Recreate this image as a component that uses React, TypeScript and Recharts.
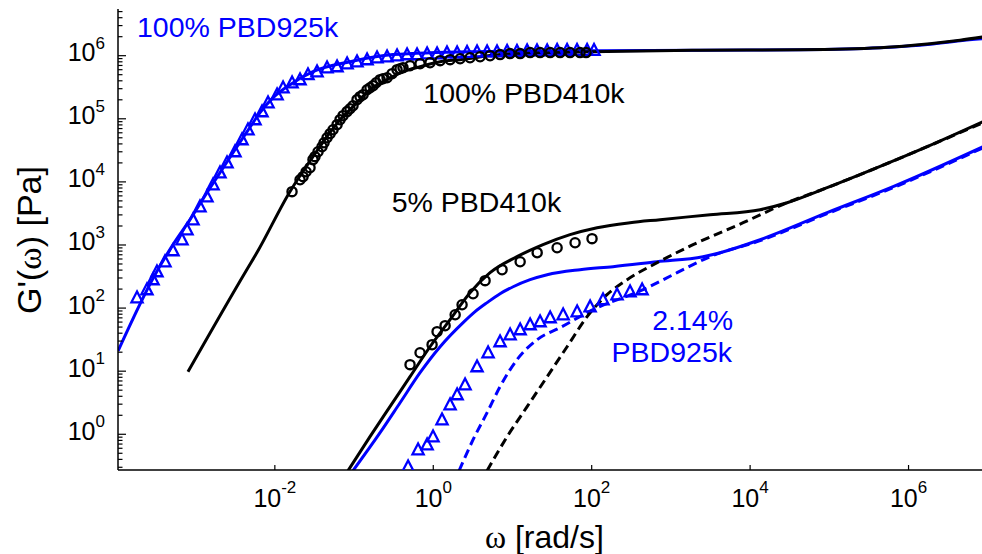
import React from 'react';
import { ComposedChart, Line, Scatter, XAxis, YAxis } from 'recharts';

// ---------- axis ranges & ticks ----------
const X_DOMAIN: [number, number] = [1.047e-4, 8.71e6];
const Y_DOMAIN: [number, number] = [0.2716, 5.495e6];
const X_MAJOR = [1e-2, 1, 1e2, 1e4, 1e6];
const Y_MAJOR = [1, 10, 100, 1e3, 1e4, 1e5, 1e6];
const Y_MINOR_LOW = [0.3, 0.4, 0.5, 0.6, 0.7, 0.8, 0.9];
const Y_MINOR_TOP = [2e6, 3e6, 4e6, 5e6];
const MINOR_MULT = [2, 3, 4, 5, 6, 7, 8, 9];

// ---------- series: [omega rad/s, G' Pa] ----------
// 100% PBD925k – model (blue solid)
const bulk925Model: [number, number][] = [
  [1.05e-4, 21], [3.07e-4, 338], [5.18e-4, 1012], [8.49e-4, 2518], [1.39e-3, 6745],
  [2.03e-3, 1.4e4], [2.96e-3, 2.9e4], [4.46e-3, 6.25e4], [6.5e-3, 1.25e5], [9.5e-3, 2.16e5],
  [1.556e-2, 3.47e5], [3.03e-2, 5.57e5], [8.89e-2, 8.03e5], [0.31, 1.04e6], [2.91, 1.156e6],
  [95.5, 1.2e6], [2339, 1.22e6], [4.28e4, 1.245e6], [4.38e5, 1.34e6], [1.87e6, 1.52e6],
  [4.49e6, 1.73e6], [8.75e6, 1.86e6],
];
// 100% PBD925k – data (blue triangles)
const bulk925Data: [number, number][] = [
  [1.82e-4, 146], [2.43e-4, 196], [2.9e-4, 282], [3.25e-4, 378], [4.1e-4, 543],
  [5.18e-4, 813], [6.73e-4, 1213], [7.78e-4, 1746], [9.27e-4, 2512], [1.135e-3, 4046],
  [1.39e-3, 5821], [1.66e-3, 9016], [2.03e-3, 13960], [2.49e-3, 20140], [3.14e-3, 30130],
  [3.85e-3, 46670], [4.58e-3, 67140], [5.62e-3, 96830], [6.89e-3, 129700], [8.2e-3, 179900],
  [1.067e-2, 241000], [1.27e-2, 311200], [1.65e-2, 373300], [2.08e-2, 416900], [2.62e-2, 501200],
  [3.41e-2, 557200], [4.56e-2, 645700], [6.1e-2, 669900], [8.17e-2, 746500], [0.109, 803500],
  [0.146, 865000], [0.195, 929000], [0.261, 963800], [0.349, 1.0e6], [0.467, 1.038e6],
  [0.624, 1.038e6], [0.836, 1.076e6], [1.117, 1.076e6], [1.49, 1.117e6], [2.0, 1.117e6],
  [2.67, 1.135e6], [3.57, 1.156e6], [4.78, 1.156e6], [6.38, 1.156e6], [8.55, 1.178e6],
  [11.4, 1.178e6], [15.3, 1.2e6], [20.4, 1.2e6], [27.4, 1.2e6], [36.6, 1.222e6],
  [48.9, 1.222e6], [65.3, 1.222e6], [87.5, 1.222e6], [107, 1.222e6],
];
// 100% PBD410k – model (black solid)
const bulk410Model: [number, number][] = [
  [8.0e-4, 9.8], [4.42e-3, 406], [5.9e-3, 746], [1.556e-2, 7063], [3.03e-2, 2.51e4],
  [4.56e-2, 5.2e4], [6.65e-2, 9.68e4], [9.7e-2, 1.556e5], [0.159, 2.89e5], [0.261, 4.17e5],
  [0.416, 5.57e5], [0.681, 6.7e5], [1.22, 8.03e5], [2.18, 8.65e5], [6.97, 1.04e6],
  [32.5, 1.117e6], [95.5, 1.156e6], [2340, 1.22e6], [4.27e4, 1.245e6], [4.37e5, 1.34e6],
  [1.86e6, 1.55e6], [4.47e6, 1.76e6], [8.75e6, 1.98e6],
];
// 100% PBD410k – data (black circles)
const bulk410Data: [number, number][] = [
  [1.648e-2, 7000], [2.08e-2, 1.08e4], [2.27e-2, 1.21e4], [2.48e-2, 1.45e4], [2.78e-2, 1.68e4],
  [3.03e-2, 2.25e4], [3.21e-2, 2.51e4], [3.51e-2, 3.01e4], [3.94e-2, 3.61e4], [4.18e-2, 4.18e4],
  [4.56e-2, 5.01e4], [4.98e-2, 5.81e4], [5.43e-2, 6.71e4], [6.1e-2, 8.07e4], [6.65e-2, 9.68e4],
  [7.26e-2, 1.12e5], [8.15e-2, 1.3e5], [8.89e-2, 1.445e5], [9.7e-2, 1.61e5], [0.109, 2.01e5],
  [0.119, 2.24e5], [0.13, 2.41e5], [0.146, 2.89e5], [0.159, 3.11e5], [0.174, 3.35e5],
  [0.19, 3.73e5], [0.213, 4.17e5], [0.232, 4.32e5], [0.261, 4.48e5], [0.302, 5.19e5],
  [0.349, 6.0e5], [0.381, 6.22e5], [0.415, 6.46e5], [0.509, 6.95e5], [0.681, 7.47e5],
  [0.91, 7.75e5], [1.22, 8.34e5], [1.63, 8.65e5], [2.18, 8.96e5], [2.91, 9.29e5],
  [3.9, 9.64e5], [5.21, 1.0e6], [6.97, 1.04e6], [9.31, 1.08e6], [12.5, 1.08e6],
  [16.7, 1.12e6], [22.3, 1.12e6], [29.9, 1.12e6], [39.9, 1.12e6], [53.3, 1.12e6],
  [71.3, 1.12e6], [84.9, 1.12e6],
];
// 5% PBD410k – model (black solid)
const dil410Model: [number, number][] = [
  [8.4e-2, 0.265], [0.159, 0.916], [0.284, 2.74], [0.509, 8.18], [0.91, 24.4],
  [1.63, 65.5], [2.91, 175], [5.21, 364], [11.4, 653], [24.3, 1012],
  [53.3, 1457], [117, 1879], [305, 2255], [730, 2518], [3126, 3020],
  [1.34e4, 3630], [2.93e4, 4680], [9.38e4, 8090], [4.01e5, 1.68e4], [1.72e6, 3.61e4],
  [8.75e6, 9.0e4],
];
// 5% PBD410k – second model (black dashed)
const dil410Dashed: [number, number][] = [
  [4.78, 0.265], [8.55, 0.916], [15.3, 2.74], [27.4, 8.18], [48.9, 24.4],
  [87.5, 73.1], [156, 163], [280, 282], [670, 524], [1905, 1012],
  [8166, 2255], [2.93e4, 4677], [9.38e4, 8090], [4.01e5, 1.68e4], [1.72e6, 3.61e4],
  [8.75e6, 8.67e4],
];
// 5% PBD410k – data (black circles)
const dil410Data: [number, number][] = [
  [0.509, 12.7], [0.681, 19.6], [0.966, 26.3], [1.117, 42.3], [1.41, 52.6],
  [1.89, 78.5], [2.31, 113], [3.18, 169], [4.51, 272], [7.39, 406],
  [12.5, 543], [20.5, 755], [36.6, 906], [61.7, 1086], [101, 1259],
];
// 2.14% PBD925k – model (blue solid)
const dil925Model: [number, number][] = [
  [9.7e-2, 0.265], [0.213, 1.06], [0.381, 3.16], [0.681, 9.46], [1.22, 24.4],
  [2.38, 58.7], [3.37, 87.7], [4.78, 122], [6.97, 169], [10.2, 218],
  [16.7, 282], [27.4, 338], [71.3, 406], [186, 453], [670, 543],
  [2547, 653], [4178, 755], [1.34e4, 1213], [9.38e4, 3251], [6.38e5, 8395],
  [8.75e6, 3.61e4],
];
// 2.14% PBD925k – second model (blue dashed)
const dil925Dashed: [number, number][] = [
  [2.12, 0.265], [3.18, 0.82], [4.78, 2.2], [6.97, 5.68], [11.4, 15.2],
  [20.5, 31.6], [39.9, 48.9], [104, 94.4], [446, 196], [1197, 364],
  [3126, 653], [1.34e4, 1169], [9.38e4, 3133], [6.38e5, 8090], [8.75e6, 3.48e4],
];
// 2.14% PBD925k – data (blue triangles)
const dil925Data: [number, number][] = [
  [0.481, 0.307], [0.643, 0.57], [0.836, 0.684], [0.993, 0.916], [1.29, 1.7],
  [1.63, 2.94], [2.0, 4.25], [2.52, 6.11], [3.57, 11.8], [4.92, 19.6],
  [6.97, 29.4], [9.33, 37.8], [12.5, 45.5], [16.7, 54.6], [22.3, 61.0],
  [29.9, 70.5], [43.6, 78.5], [65.5, 87.7], [95.5, 105], [139, 136],
  [209, 163], [305, 182], [433, 196],
];

const rows = (pts: [number, number][]) => pts.map(([w, g]) => ({ w, g }));

const BLUE = '#0000ff';
const BLACK = '#000000';
const SANS = '"Liberation Sans", Arial, Helvetica, sans-serif';
const SERIF = '"Liberation Serif", "Times New Roman", serif';

const yTicksAll = [
  ...Y_MINOR_LOW,
  ...Y_MAJOR.flatMap((m) => (m < 1e6 ? [m, ...MINOR_MULT.map((k) => k * m)] : [m])),
  ...Y_MINOR_TOP,
];

const isMajor = (v: number) => {
  const l = Math.log10(v);
  return Math.abs(l - Math.round(l)) < 1e-6;
};

const XTickBottom = (props: any) => {
  const { x, y, payload } = props;
  const e = Math.round(Math.log10(payload.value));
  return (
    <g>
      <line x1={x} y1={y} x2={x} y2={y - 5} stroke={BLACK} strokeWidth={1.2} />
      <text x={x} y={y + 37} textAnchor="middle" fontFamily={SANS} fontSize={25} fill={BLACK}>
        10<tspan dy={-14} fontSize={17}>{String(e)}</tspan>
      </text>
    </g>
  );
};

const XTickTop = (props: any) => {
  const { x, y } = props;
  return <line x1={x} y1={y} x2={x} y2={y + 5} stroke={BLACK} strokeWidth={1.2} />;
};

const YTickLeft = (props: any) => {
  const { x, y, payload } = props;
  const v = payload.value;
  const major = isMajor(v);
  const e = Math.round(Math.log10(v));
  return (
    <g>
      <line x1={x} y1={y} x2={x + (major ? 8 : 4.5)} y2={y} stroke={BLACK} strokeWidth={1.2} />
      {major && (
        <text x={x - 13} y={y + 5.5} textAnchor="end" fontFamily={SANS} fontSize={25} fill={BLACK}>
          10<tspan dy={-12.5} fontSize={17}>{String(e)}</tspan>
        </text>
      )}
    </g>
  );
};

const YTickRight = (props: any) => {
  const { x, y, payload } = props;
  if (!isMajor(payload.value)) return <g />;
  return <line x1={x} y1={y} x2={x - 5} y2={y} stroke={BLACK} strokeWidth={1.2} />;
};

const Triangle = (props: any) => {
  const { cx, cy, color } = props;
  if (cx == null || cy == null) return <g />;
  const h = 5.6;
  return (
    <polygon
      points={`${cx},${cy - h - 0.6} ${cx - h},${cy + h - 1} ${cx + h},${cy + h - 1}`}
      fill="none"
      stroke={color}
      strokeWidth={2.3}
      strokeLinejoin="miter"
    />
  );
};

const Circle = (props: any) => {
  const { cx, cy } = props;
  if (cx == null || cy == null) return <g />;
  return <circle cx={cx} cy={cy} r={4.6} fill="none" stroke={BLACK} strokeWidth={2.3} />;
};

export default function App() {
  const lineCommon = {
    xAxisId: 'b',
    yAxisId: 'l',
    dataKey: 'g',
    dot: false,
    activeDot: false,
    isAnimationActive: false,
    strokeWidth: 3,
    type: 'monotone' as const,
  };
  return (
    <div
      style={{
        position: 'absolute',
        left: 0,
        top: 0,
        width: 982,
        height: 554,
        overflow: 'hidden',
        background: '#fff',
      }}
    >
      <ComposedChart width={990} height={554} margin={{ top: 9, right: 7, bottom: 0, left: 0 }}>
        <XAxis
          xAxisId="b"
          type="number"
          dataKey="w"
          scale="log"
          domain={X_DOMAIN}
          allowDataOverflow
          ticks={X_MAJOR}
          interval={0}
          tick={<XTickBottom />}
          tickLine={false}
          tickSize={0}
          tickMargin={0}
          height={84}
          axisLine={{ stroke: BLACK, strokeWidth: 1.5 }}
        />
        <XAxis
          xAxisId="t"
          orientation="top"
          type="number"
          dataKey="w"
          scale="log"
          domain={X_DOMAIN}
          allowDataOverflow
          ticks={X_MAJOR}
          interval={0}
          tick={<XTickTop />}
          tickLine={false}
          tickSize={0}
          tickMargin={0}
          height={0}
          axisLine={{ stroke: '#333333', strokeWidth: 1.8 }}
        />
        <YAxis
          yAxisId="l"
          type="number"
          dataKey="g"
          scale="log"
          domain={Y_DOMAIN}
          allowDataOverflow
          ticks={yTicksAll}
          interval={0}
          tick={<YTickLeft />}
          tickLine={false}
          tickSize={0}
          tickMargin={0}
          width={118}
          axisLine={{ stroke: BLACK, strokeWidth: 1.5 }}
        />
        <YAxis
          yAxisId="r"
          orientation="right"
          type="number"
          dataKey="g"
          scale="log"
          domain={Y_DOMAIN}
          allowDataOverflow
          ticks={Y_MAJOR}
          interval={0}
          tick={<YTickRight />}
          tickLine={false}
          tickSize={0}
          tickMargin={0}
          width={0}
          axisLine={{ stroke: BLACK, strokeWidth: 1.5 }}
        />

        <Line {...lineCommon} data={rows(bulk925Model)} stroke={BLUE} />
        <Line {...lineCommon} data={rows(dil925Model)} stroke={BLUE} />
        <Line {...lineCommon} data={rows(dil925Dashed)} stroke={BLUE} strokeDasharray="9 5" />
        <Scatter
          xAxisId="b"
          yAxisId="l"
          dataKey="g"
          data={rows(bulk925Data)}
          isAnimationActive={false}
          shape={(p: any) => <Triangle cx={p.cx} cy={p.cy} color={BLUE} />}
        />
        <Scatter
          xAxisId="b"
          yAxisId="l"
          dataKey="g"
          data={rows(dil925Data)}
          isAnimationActive={false}
          shape={(p: any) => <Triangle cx={p.cx} cy={p.cy} color={BLUE} />}
        />
        <Line {...lineCommon} data={rows(bulk410Model)} stroke={BLACK} />
        <Line {...lineCommon} data={rows(dil410Model)} stroke={BLACK} />
        <Line {...lineCommon} data={rows(dil410Dashed)} stroke={BLACK} strokeDasharray="9 5" />
        <Scatter
          xAxisId="b"
          yAxisId="l"
          dataKey="g"
          data={rows(bulk410Data)}
          isAnimationActive={false}
          shape={(p: any) => <Circle cx={p.cx} cy={p.cy} />}
        />
        <Scatter
          xAxisId="b"
          yAxisId="l"
          dataKey="g"
          data={rows(dil410Data)}
          isAnimationActive={false}
          shape={(p: any) => <Circle cx={p.cx} cy={p.cy} />}
        />
      </ComposedChart>

      <svg
        width={982}
        height={554}
        style={{ position: 'absolute', left: 0, top: 0, pointerEvents: 'none' }}
      >
        <text x={137} y={37.3} fontFamily={SANS} fontSize={28.5} fill={BLUE}>
          100% PBD925k
        </text>
        <text x={423.3} y={103.3} fontFamily={SANS} fontSize={28.5} fill={BLACK}>
          100% PBD410k
        </text>
        <text x={391.7} y={211.7} fontFamily={SANS} fontSize={28.5} fill={BLACK}>
          5% PBD410k
        </text>
        <text x={733} y={330} textAnchor="end" fontFamily={SANS} fontSize={28.5} fill={BLUE}>
          2.14%
        </text>
        <text x={732} y={361.7} textAnchor="end" fontFamily={SANS} fontSize={28.5} fill={BLUE}>
          PBD925k
        </text>
        <text x={485} y={548} fontFamily={SANS} fontSize={32} fill={BLACK}>
          <tspan fontFamily={SERIF}>ω</tspan> [rad/s]
        </text>
        <text
          x={0}
          y={0}
          transform="translate(41,240) rotate(-90)"
          textAnchor="middle"
          fontFamily={SANS}
          fontSize={34}
          fill={BLACK}
        >
          G'(<tspan fontFamily={SERIF}>ω</tspan>) [Pa]
        </text>
      </svg>
    </div>
  );
}
